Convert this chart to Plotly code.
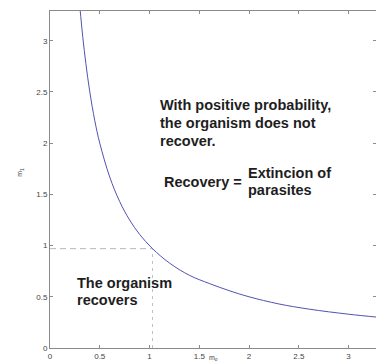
import plotly.graph_objects as go

# Boundary curve
m0 = [0.30, 0.33, 0.36, 0.40, 0.45, 0.50, 0.60, 0.70, 0.80, 0.90, 1.03, 1.20, 1.40, 1.60, 1.80, 2.00, 2.30, 2.60, 3.00, 3.30]
m1 = [3.33, 3.03, 2.78, 2.50, 2.22, 2.00, 1.67, 1.43, 1.25, 1.11, 0.97, 0.83, 0.71, 0.63, 0.56, 0.50, 0.43, 0.38, 0.33, 0.30]

# Threshold point (dashed guides)
thr_x = 1.03
thr_y = 0.97

tick_vals = [0, 0.5, 1, 1.5, 2, 2.5, 3]
tick_text = ["0", "0.5", "1", "1.5", "2", "2.5", "3"]

fig = go.Figure()
fig.add_trace(go.Scatter(x=[0, thr_x], y=[thr_y, thr_y], mode="lines",
                         line=dict(color="#b8b8b8", width=1, dash="6px,4px"), hoverinfo="skip"))
fig.add_trace(go.Scatter(x=[thr_x, thr_x], y=[0, thr_y], mode="lines",
                         line=dict(color="#c0c0c0", width=1, dash="3px,4px"), hoverinfo="skip"))
fig.add_trace(go.Scatter(x=m0, y=m1, mode="lines", line=dict(color="#5252b0", width=1, shape="spline"),
                         hoverinfo="skip"))

txt = dict(family="Liberation Sans, Arial", size=14.5, color="#1e1e1e")
notes = [
    ("<b>With positive probability,</b>", 1.085, 2.373),
    ("<b>the organism does not</b>", 1.085, 2.197),
    ("<b>recover.</b>", 1.085, 2.02),
    ("<b>Recovery =</b>", 1.125, 1.62),
    ("<b>Extincion of</b>", 1.97, 1.709),
    ("<b>parasites</b>", 1.97, 1.543),
    ("<b>The organism</b>", 0.25, 0.635),
    ("<b>recovers</b>", 0.25, 0.469),
]
for t, x, y in notes:
    fig.add_annotation(text=t, x=x, y=y, xref="x", yref="y", xanchor="left", yanchor="middle",
                       showarrow=False, font=txt)

fig.add_annotation(text="m<sub>o</sub>", x=0.5, y=-0.045, xref="paper", yref="paper",
                   xanchor="center", yanchor="bottom", showarrow=False, borderpad=0,
                   font=dict(family="Liberation Sans, Arial", size=7, color="#444"))
fig.add_annotation(text="m<sub>1</sub>", x=-0.092, y=0.52, xref="paper", yref="paper",
                   xanchor="center", yanchor="middle", showarrow=False, textangle=-90,
                   font=dict(family="Liberation Sans, Arial", size=7, color="#444"))

axis_common = dict(showgrid=False, zeroline=False, showline=True, linecolor="#8a8a8a", linewidth=1,
                   mirror="ticks", ticks="inside", ticklen=3, tickcolor="#8a8a8a",
                   tickvals=tick_vals, ticktext=tick_text,
                   tickfont=dict(family="Liberation Sans, Arial", size=8, color="#444"))

fig.update_layout(
    width=376, height=364,
    margin=dict(l=50, r=0, t=11, b=16),
    plot_bgcolor="white", paper_bgcolor="white",
    showlegend=False,
    xaxis=dict(range=[0, 3.276], **axis_common),
    yaxis=dict(range=[0, 3.29], **axis_common),
)

fig.write_html("out.html")
